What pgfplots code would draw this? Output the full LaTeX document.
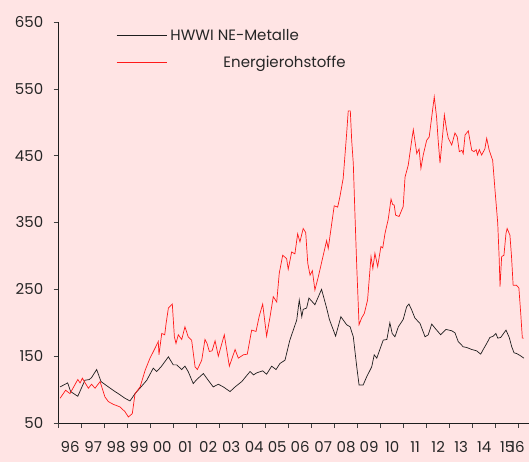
\documentclass[border=0pt]{standalone}
\usepackage{fontspec}
\setmainfont{Poppins}
\usepackage{pgfplots}
\pgfplotsset{compat=1.18}
\usetikzlibrary{backgrounds}
\definecolor{bgpink}{RGB}{255,228,228}
\definecolor{linered}{RGB}{255,25,25}
\definecolor{lineblack}{RGB}{30,30,30}

\pgfplotstableread{
x y
1996.06 104
1996.39 110
1996.52 97
1996.83 90
1997.14 114
1997.33 115
1997.43 118
1997.65 130
1997.84 112
1998.16 104
1998.45 97
1998.59 94
1998.88 87
1999.10 83
1999.32 94
1999.58 104
1999.83 114
2000.11 132
2000.26 127
2000.45 134
2000.77 149
2000.98 137
2001.13 137
2001.35 130
2001.49 135
2001.63 127
2001.85 109
2002.00 115
2002.29 124
2002.50 114
2002.72 104
2002.94 108
2003.16 104
2003.45 97
2003.67 104
2003.96 112
2004.32 127
2004.47 122
2004.61 125
2004.87 128
2005.04 123
2005.26 135
2005.45 130
2005.62 139
2005.84 144
2006.05 174
2006.20 189
2006.35 204
2006.46 234
2006.57 209
2006.63 220
2006.78 222
2006.88 237
2007.14 227
2007.43 250
2007.65 222
2007.77 205
2008.04 180
2008.27 209
2008.52 197
2008.67 194
2008.81 179
2008.96 134
2009.06 107
2009.24 107
2009.39 119
2009.61 134
2009.72 152
2009.83 147
2010.11 174
2010.27 175
2010.40 200
2010.50 184
2010.62 179
2010.77 194
2010.98 205
2011.13 224
2011.23 228
2011.35 219
2011.49 207
2011.71 199
2011.93 179
2012.07 182
2012.22 198
2012.36 192
2012.61 182
2012.84 190
2013.09 188
2013.23 185
2013.37 172
2013.59 164
2013.74 163
2013.96 160
2014.17 158
2014.35 153
2014.46 160
2014.61 169
2014.75 178
2014.90 180
2015.01 184
2015.09 177
2015.22 178
2015.45 189
2015.59 178
2015.70 164
2015.80 155
2015.91 154
2016.06 151
2016.23 147
}\metals

\pgfplotstableread{
x y
1996.06 87
1996.30 99
1996.49 94
1996.83 115
1996.93 110
1997.03 117
1997.29 102
1997.43 108
1997.58 102
1997.80 112
1998.01 89
1998.16 82
1998.37 78
1998.67 74
1998.88 67
1999.03 59
1999.20 64
1999.32 94
1999.54 104
1999.76 129
1999.97 147
2000.19 162
2000.33 172
2000.36 152
2000.48 184
2000.61 182
2000.67 199
2000.77 222
2000.94 228
2001.03 179
2001.10 169
2001.20 182
2001.35 175
2001.49 194
2001.63 179
2001.78 174
2001.93 134
2002.03 130
2002.22 144
2002.36 175
2002.45 169
2002.55 157
2002.67 158
2002.80 173
2002.94 150
2003.20 182
2003.42 135
2003.67 160
2003.81 147
2004.03 152
2004.20 153
2004.39 189
2004.58 187
2004.72 210
2004.87 228
2005.04 180
2005.19 209
2005.33 239
2005.48 231
2005.59 274
2005.74 301
2005.91 296
2005.98 280
2006.13 306
2006.27 303
2006.39 333
2006.49 321
2006.63 341
2006.74 335
2006.83 289
2006.93 271
2007.03 278
2007.14 249
2007.29 269
2007.43 290
2007.65 323
2007.72 311
2007.98 375
2008.13 373
2008.23 389
2008.37 416
2008.52 483
2008.59 517
2008.68 517
2008.74 473
2008.81 438
2008.88 364
2008.96 284
2009.06 197
2009.17 207
2009.29 214
2009.43 234
2009.58 299
2009.66 281
2009.75 304
2009.87 284
2010.01 314
2010.09 312
2010.19 334
2010.33 355
2010.45 385
2010.52 377
2010.59 376
2010.65 361
2010.80 359
2010.98 374
2011.06 418
2011.20 436
2011.35 473
2011.42 489
2011.57 453
2011.67 460
2011.75 431
2011.85 451
2012.00 473
2012.11 478
2012.22 508
2012.33 538
2012.43 508
2012.50 473
2012.58 439
2012.70 483
2012.77 511
2012.87 488
2012.94 476
2013.09 466
2013.23 484
2013.33 478
2013.42 456
2013.53 458
2013.59 453
2013.67 481
2013.81 487
2013.96 458
2014.06 456
2014.15 459
2014.21 451
2014.29 459
2014.39 451
2014.53 460
2014.61 476
2014.72 458
2014.87 443
2014.97 399
2015.09 349
2015.15 299
2015.19 254
2015.26 299
2015.36 301
2015.45 334
2015.50 341
2015.62 331
2015.69 299
2015.76 256
2015.91 256
2016.01 252
2016.09 214
2016.16 177
2016.23 177
}\energy

\begin{document}
\begin{tikzpicture}
\begin{axis}[
  scale only axis, width=470.3pt, height=401pt,
  xmin=1996, xmax=2016.45, ymin=50, ymax=650,
  axis x line*=bottom, axis y line*=left,
  axis line style={lineblack, line width=0.8pt},
  ytick={50,150,250,350,450,550,650},
  xtick={1996,1997,1998,1999,2000,2001,2002,2003,2004,2005,2006,2007,2008,2009,2010,2011,2012,2013,2014,2015,2016},
  xticklabels={},
  extra x ticks={1996.5,1997.5,1998.5,1999.5,2000.5,2001.5,2002.5,2003.5,2004.5,2005.5,2006.5,2007.5,2008.5,2009.5,2010.5,2011.5,2012.5,2013.5,2014.5,2015.5,2015.95},
  extra x tick labels={96,97,98,99,00,01,02,03,04,05,06,07,08,09,10,11,12,13,14,15,16},
  extra x tick style={major tick length=0pt},
  tick align=outside, major tick length=5pt,
  tick style={black!75, line width=0.6pt},
  /pgf/number format/assume math mode=true,
  yticklabel={\pgfmathprintnumber[assume math mode=true]{\tick}},
  ticklabel style={font=\fontsize{15}{18}\selectfont, text=black!85},
  yticklabel style={xshift=-7pt},
  xticklabel style={yshift=-15pt},
  legend style={at={(0.122,0.985)}, anchor=north west, draw=none, fill=none,
    font=\fontsize{15}{18}\selectfont, text=black!85, row sep=12pt, inner sep=0pt,
    nodes={inner xsep=3.5pt, inner ysep=1pt}},
  legend cell align=left,
  legend image code/.code={\draw[#1] (0pt,0pt) -- (50pt,0pt);},
]
\addplot[lineblack, line width=0.7pt] table {\metals};
\addlegendentry{HWWI NE-Metalle}
\addplot[linered, line width=0.7pt] table {\energy};
\addlegendentry{\hspace*{53pt}Energierohstoffe}
\end{axis}
\begin{pgfonlayer}{background}
\fill[bgpink] (-58.7pt,-39pt) rectangle (470.3pt,423pt);
\end{pgfonlayer}
\pgfresetboundingbox
\useasboundingbox (-58.7pt,-39pt) rectangle (470.3pt,423pt);
\end{tikzpicture}
\end{document}
